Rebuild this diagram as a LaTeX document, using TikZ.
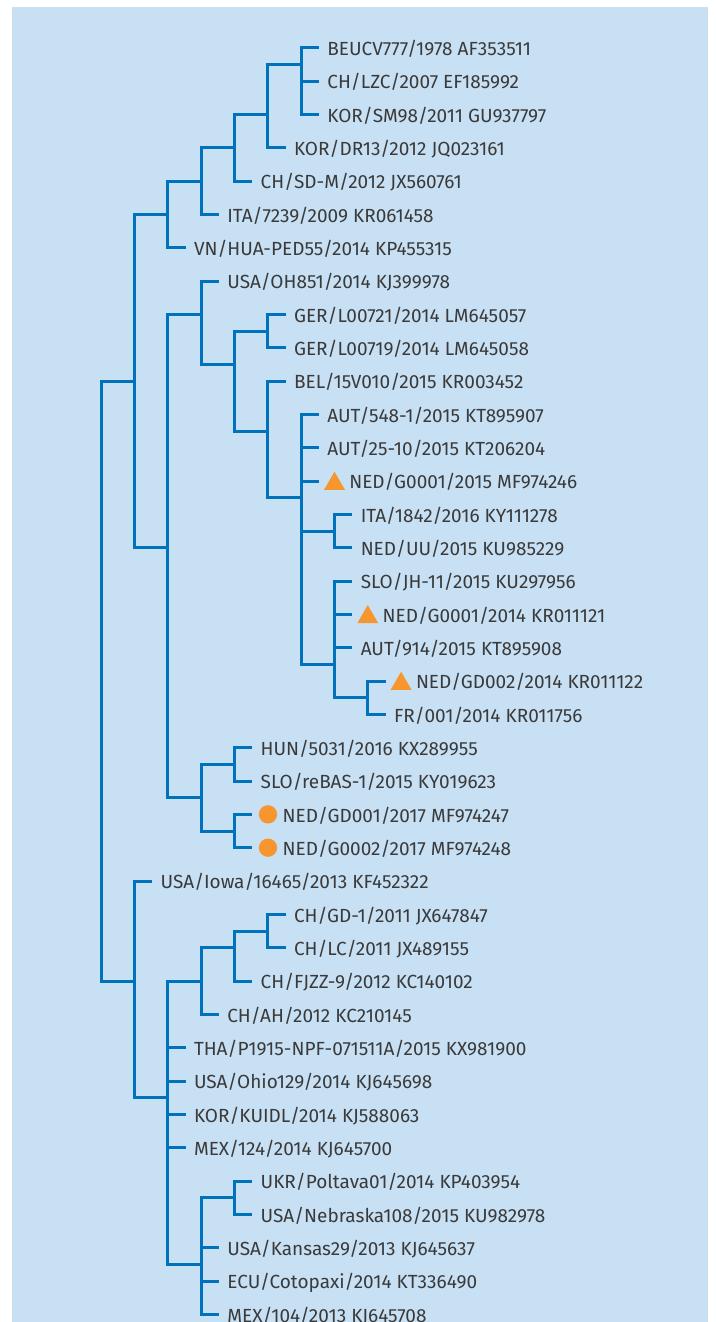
\documentclass[tikz,border=0pt]{standalone}
\usepackage{fontspec}
\setmainfont{Fira Sans}
\usetikzlibrary{shapes.geometric}
\definecolor{bgblue}{RGB}{200,224,244}
\definecolor{brblue}{RGB}{0,114,188}
\definecolor{mkorange}{RGB}{247,150,46}
\definecolor{txtgray}{RGB}{58,58,58}
\newcommand\colx[1]{101+33.35*#1}
\newcommand\rowy[1]{47.7+33.333*#1}
\newcommand\leaf[5]{%
  \coordinate (t#1) at ({\colx{#2}+18},{\rowy{#3}});
  \node[lab] (l#1) at ({\colx{#2}+18+#5},{\rowy{#3}+7.9}) {#4};}
\newcommand\inode[3]{\coordinate (#1) at ({\colx{#2}},{\rowy{#3}});}
\tikzset{
  lab/.style={anchor=base west, inner sep=0pt, outer sep=0pt, text=txtgray, font=\fontsize{19}{21}\selectfont},
  br/.style={draw=brblue, line width=3pt},
  tri/.style={regular polygon, regular polygon sides=3, minimum size=24.2pt, inner sep=0pt, fill=mkorange, draw=none},
  dot/.style={circle, minimum size=18.3pt, inner sep=0pt, fill=mkorange, draw=none},
}
\begin{document}
\begin{tikzpicture}[x=1pt,y=-1pt]
\useasboundingbox (0,0) rectangle (715,1322);
\fill[bgblue] (12,7) rectangle (707.5,1322);
% internal nodes
\inode{root}{0}{19}
\inode{A}{1}{10}
\inode{B}{1}{28}
\inode{a167}{2}{5}
\inode{a201}{3}{4}
\inode{a234}{4}{3}
\inode{a268}{5}{2}
\inode{a301}{6}{0.5}
\inode{A2}{2}{15}
\inode{b201}{3}{8}
\inode{b234}{4}{9.5}
\inode{b268}{5}{8.5}
\inode{c268}{5}{11.5}
\inode{b301}{6}{13.5}
\inode{a334}{7}{14.5}
\inode{b334}{7}{18.5}
\inode{a367}{8}{19.5}
\inode{c201}{3}{22.5}
\inode{c234}{4}{21.5}
\inode{d234}{4}{23.5}
\inode{B2}{2}{31.5}
\inode{d201}{3}{28}
\inode{e234}{4}{27}
\inode{d268}{5}{26.5}
\inode{e201}{3}{36.5}
\inode{f234}{4}{34.5}
% leaves
\leaf{0}{6}{0}{BEUCV777/1978 AF353511}{8.3}
\leaf{1}{6}{1}{CH/LZC/2007 EF185992}{8.3}
\leaf{2}{6}{2}{KOR/SM98/2011 GU937797}{8.3}
\leaf{3}{5}{3}{KOR/DR13/2012 JQ023161}{8.3}
\leaf{4}{4}{4}{CH/SD-M/2012 JX560761}{8.3}
\leaf{5}{3}{5}{ITA/7239/2009 KR061458}{8.3}
\leaf{6}{2}{6}{VN/HUA-PED55/2014 KP455315}{8.3}
\leaf{7}{3}{7}{USA/OH851/2014 KJ399978}{8.3}
\leaf{8}{5}{8}{GER/L00721/2014 LM645057}{8.3}
\leaf{9}{5}{9}{GER/L00719/2014 LM645058}{8.3}
\leaf{10}{5}{10}{BEL/15V010/2015 KR003452}{8.3}
\leaf{11}{6}{11}{AUT/548-1/2015 KT895907}{8.3}
\leaf{12}{6}{12}{AUT/25-10/2015 KT206204}{8.3}
\leaf{13}{6}{13}{NED/G0001/2015 MF974246}{30.2}
\leaf{14}{7}{14}{ITA/1842/2016 KY111278}{8.3}
\leaf{15}{7}{15}{NED/UU/2015 KU985229}{8.3}
\leaf{16}{7}{16}{SLO/JH-11/2015 KU297956}{8.3}
\leaf{17}{7}{17}{NED/G0001/2014 KR011121}{30.2}
\leaf{18}{7}{18}{AUT/914/2015 KT895908}{8.3}
\leaf{19}{8}{19}{NED/GD002/2014 KR011122}{30.2}
\leaf{20}{8}{20}{FR/001/2014 KR011756}{8.3}
\leaf{21}{4}{21}{HUN/5031/2016 KX289955}{8.3}
\leaf{22}{4}{22}{SLO/reBAS-1/2015 KY019623}{8.3}
\leaf{23}{4}{23}{NED/GD001/2017 MF974247}{30.3}
\leaf{24}{4}{24}{NED/G0002/2017 MF974248}{30.3}
\leaf{25}{1}{25}{USA/Iowa/16465/2013 KF452322}{8.3}
\leaf{26}{5}{26}{CH/GD-1/2011 JX647847}{8.3}
\leaf{27}{5}{27}{CH/LC/2011 JX489155}{8.3}
\leaf{28}{4}{28}{CH/FJZZ-9/2012 KC140102}{8.3}
\leaf{29}{3}{29}{CH/AH/2012 KC210145}{8.3}
\leaf{30}{2}{30}{THA/P1915-NPF-071511A/2015 KX981900}{8.3}
\leaf{31}{2}{31}{USA/Ohio129/2014 KJ645698}{8.3}
\leaf{32}{2}{32}{KOR/KUIDL/2014 KJ588063}{8.3}
\leaf{33}{2}{33}{MEX/124/2014 KJ645700}{8.3}
\leaf{34}{4}{34}{UKR/Poltava01/2014 KP403954}{8.3}
\leaf{35}{4}{35}{USA/Nebraska108/2015 KU982978}{8.3}
\leaf{36}{3}{36}{USA/Kansas29/2013 KJ645637}{8.3}
\leaf{37}{3}{37}{ECU/Cotopaxi/2014 KT336490}{8.3}
\leaf{38}{3}{38}{MEX/104/2013 KJ645708}{8.3}
% markers
\node[tri] (m13) at ({\colx{6}+18+15.4},{\rowy{13}+2.8}) {};
\node[tri] (m17) at ({\colx{7}+18+15.3},{\rowy{17}+2.8}) {};
\node[tri] (m19) at ({\colx{8}+18+15.3},{\rowy{19}+2.8}) {};
\node[dot] (m23) at ({\colx{4}+18+15.6},{\rowy{23}}) {};
\node[dot] (m24) at ({\colx{4}+18+15.6},{\rowy{24}}) {};
% branches
\foreach \p/\c in {root/A, root/B,
  A/a167, A/A2, a167/a201, a167/t6, a201/a234, a201/t5, a234/a268, a234/t4,
  a268/a301, a268/t3, a301/t0, a301/t1, a301/t2,
  A2/b201, A2/c201, b201/t7, b201/b234, b234/b268, b234/c268, b268/t8, b268/t9,
  c268/t10, c268/b301, b301/t11, b301/t12, b301/t13, b301/a334, b301/b334,
  a334/t14, a334/t15, b334/t16, b334/t17, b334/t18, b334/a367, a367/t19, a367/t20,
  c201/c234, c201/d234, c234/t21, c234/t22, d234/t23, d234/t24,
  B/t25, B/B2, B2/d201, B2/t30, B2/t31, B2/t32, B2/t33, B2/e201,
  d201/e234, d201/t29, e234/d268, e234/t28, d268/t26, d268/t27,
  e201/f234, e201/t36, e201/t37, e201/t38, f234/t34, f234/t35}
  {\draw[br] (\p) |- (\c);}
\end{tikzpicture}
\end{document}
